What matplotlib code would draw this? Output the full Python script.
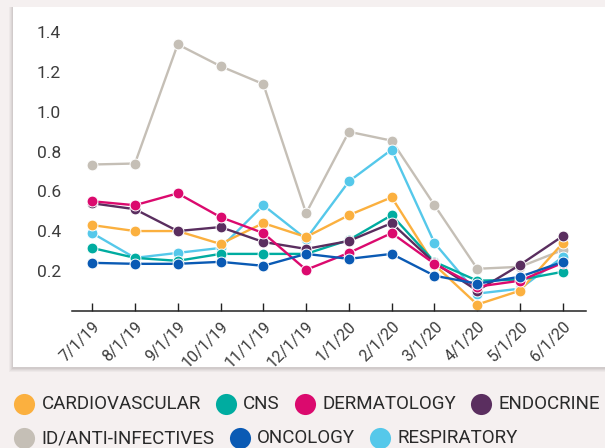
import numpy as np
import matplotlib
matplotlib.use("Agg")
import matplotlib.pyplot as plt
from matplotlib.patches import Rectangle
from matplotlib.lines import Line2D

plt.rcParams['font.family'] = ['Roboto', 'DejaVu Sans']

# data
months = ["7/1/19", "8/1/19", "9/1/19", "10/1/19", "11/1/19", "12/1/19",
          "1/1/20", "2/1/20", "3/1/20", "4/1/20", "5/1/20", "6/1/20"]

id_anti = [0.735, 0.74, 1.34, 1.23, 1.14, 0.49, 0.90, 0.855, 0.53, 0.21, 0.22, 0.305]
respiratory = [0.39, 0.265, 0.29, 0.315, 0.53, 0.36, 0.65, 0.81, 0.34, 0.085, 0.11, 0.27]
cardio = [0.43, 0.40, 0.40, 0.335, 0.44, 0.37, 0.48, 0.57, 0.23, 0.03, 0.10, 0.34]
cns = [0.315, 0.265, 0.25, 0.285, 0.285, 0.285, 0.355, 0.48, 0.245, 0.15, 0.155, 0.195]
derm = [0.55, 0.53, 0.59, 0.47, 0.39, 0.205, 0.29, 0.39, 0.235, 0.12, 0.15, 0.24]
endo = [0.54, 0.51, 0.40, 0.42, 0.345, 0.31, 0.35, 0.44, 0.24, 0.10, 0.23, 0.375]
oncology = [0.24, 0.235, 0.235, 0.245, 0.225, 0.285, 0.26, 0.285, 0.175, 0.135, 0.17, 0.245]

yticks = [0.2, 0.4, 0.6, 0.8, 1.0, 1.2, 1.4]

# draw order (back to front)
series = [
    ("ID/ANTI-INFECTIVES", id_anti, "#c5bfb6"),
    ("RESPIRATORY", respiratory, "#55c8ea"),
    ("CARDIOVASCULAR", cardio, "#fbb03f"),
    ("CNS", cns, "#00aca0"),
    ("ENDOCRINE", endo, "#5a2e5f"),
    ("DERMATOLOGY", derm, "#db0a6e"),
    ("ONCOLOGY", oncology, "#0a5ab4"),
]
legend_rows = [["CARDIOVASCULAR", "CNS", "DERMATOLOGY", "ENDOCRINE"],
               ["ID/ANTI-INFECTIVES", "ONCOLOGY", "RESPIRATORY"]]

W, H = 605, 448
fig = plt.figure(figsize=(W / 100, H / 100), dpi=100)
fig.patch.set_facecolor("#f5f0f0")

# white card with a soft shadow
for i, a in enumerate([0.05, 0.06, 0.07, 0.09]):
    off = 4 - i
    fig.add_artist(Rectangle(((13 - off) / W, (448 - 368 - off) / H),
                             (W - 13 + 2 * off) / W, (361 + off) / H,
                             transform=fig.transFigure, facecolor="#6a6060",
                             alpha=a, edgecolor="none", zorder=0))
fig.add_artist(Rectangle((13 / W, (448 - 367) / H), (W - 13) / W, 360 / H,
                         transform=fig.transFigure, facecolor="white",
                         edgecolor="none", zorder=0.5))

ax = fig.add_axes([72 / W, (448 - 310.5) / H, 514 / W, 288 / H])
ax.set_facecolor("none")
ax.set_zorder(2)

x = np.arange(len(months))
for name, vals, col in series:
    ax.plot(x, vals, color=col, lw=1.7, marker="o", ms=7.8,
            markeredgecolor="white", markeredgewidth=0.7)

ax.set_xlim(-0.47, 11.54)
ax.set_ylim(0, 1.45)
ax.set_yticks(yticks)
ax.set_yticklabels([f"{v:.1f}" for v in yticks])
ax.set_xticks(x)
ax.set_xticklabels(months, rotation=45, ha="right", rotation_mode="anchor")

for s in ["top", "right", "left"]:
    ax.spines[s].set_visible(False)
ax.spines["bottom"].set_color("#222222")
ax.spines["bottom"].set_linewidth(1.1)
ax.tick_params(axis="y", length=0, pad=8, labelsize=12.5, labelcolor="#3c3c3c")
ax.tick_params(axis="x", direction="in", length=6, width=1, color="#222222",
               pad=6, labelsize=11.5, labelcolor="#3c3c3c")

# legend below the card
colors = {name: col for name, _, col in series}
fig.canvas.draw()
renderer = fig.canvas.get_renderer()
row_y = [448 - 404, 448 - 438]
for row, yy in zip(legend_rows, row_y):
    cx = 24
    for name in row:
        fig.add_artist(Line2D([cx / W], [yy / H], marker="o", ms=15.2,
                              color=colors[name], markeredgewidth=0,
                              transform=fig.transFigure))
        t = fig.text((cx + 17.5) / W, yy / H, name, fontsize=13.5,
                     color="#2a2a2a", va="center", ha="left")
        bb = t.get_window_extent(renderer)
        cx = bb.x1 + 25

fig.savefig("out.png", dpi=100, facecolor=fig.get_facecolor())
